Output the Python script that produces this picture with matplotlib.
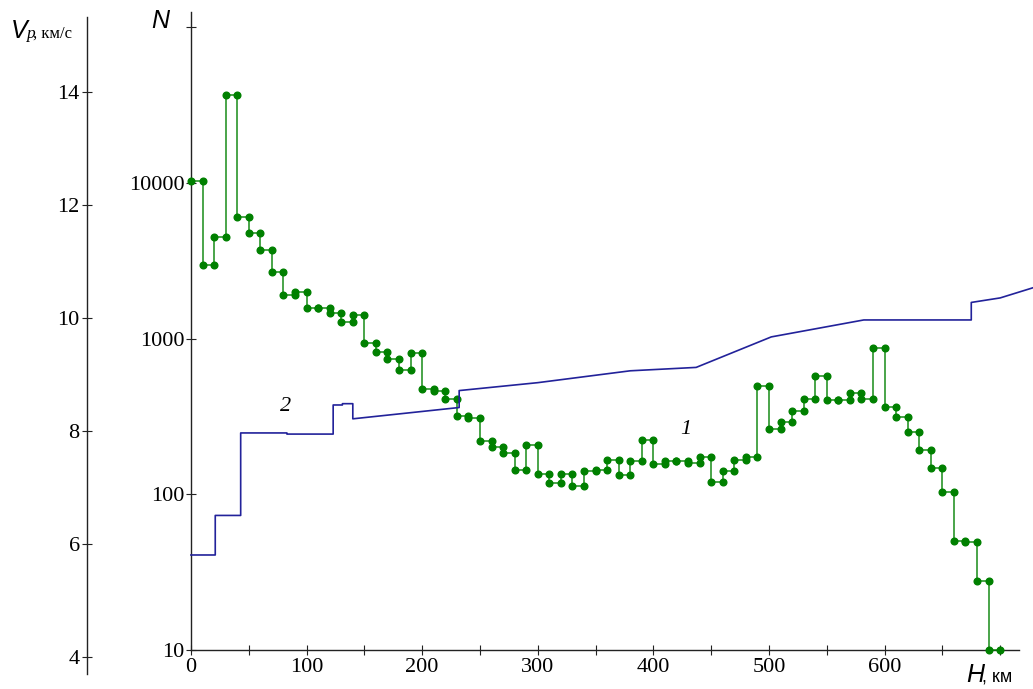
import numpy as np
import matplotlib.pyplot as plt
from matplotlib.ticker import NullLocator

plt.rcParams['font.family'] = 'Liberation Serif'

W, H = 1033, 689

# number of layers per 10 km depth bin (curve 1)
h_edges = np.arange(0, 701, 10)
n_counts = [10300, 2970, 4500, 36800, 6040, 4790, 3710, 2680, 1900, 1990,
            1575, 1575, 1456, 1285, 1419, 933, 824, 736, 628, 805,
            477, 462, 409, 320, 310, 220, 202, 183, 143, 206,
            136, 118, 136, 113, 142, 143, 166, 134, 164, 224,
            157, 164, 164, 158, 174, 120, 141, 165, 174, 497,
            262, 292, 344, 409, 578, 402, 402, 450, 408, 875,
            364, 315, 252, 193, 148, 103, 49.9, 49.5, 27.7, 10]

# P-wave velocity vs depth (curve 2)
vp_depth = [0, 21, 21, 43, 43, 83, 83, 123, 123, 131, 131, 140, 140, 232, 232,
            300, 380, 437, 502, 582, 675, 675, 700, 730]
vp_speed = [5.8, 5.8, 6.5, 6.5, 7.96, 7.96, 7.94, 7.94, 8.455, 8.455, 8.478, 8.478,
            8.21, 8.41, 8.71, 8.85, 9.06, 9.12, 9.66, 9.96, 9.96, 10.27, 10.35, 10.54]

x_ticks = np.arange(0, 701, 50)
x_labels = [str(int(t)) if t % 100 == 0 and t < 700 else '' for t in x_ticks]
n_ticks = [10, 100, 1000, 10000, 100000]
n_labels = ['10', '100', '1000', '10000', '']
vp_ticks = [4, 6, 8, 10, 12, 14]

fig = plt.figure(figsize=(W / 100, H / 100), dpi=100)
ax = fig.add_axes([0, 0, 1, 1])
ax.patch.set_visible(False)
ax.set_xlim(-165.2, 728.4)
ax.set_yscale('log')
ax.set_ylim(10 ** 0.7495, 10 ** 5.1747)

ax2 = ax.twinx()
ax2.set_ylim(3.428, 15.623)

green = '#008000'
ax.stairs(n_counts, h_edges, baseline=None, color=green, lw=1.25, alpha=0.8, zorder=3)
dot_x = np.column_stack([h_edges[:-1], h_edges[1:]]).ravel()
dot_y = np.repeat(n_counts, 2)
ax.plot(dot_x, dot_y, ls='none', marker='o', ms=4.8, color=green, zorder=4, clip_on=False)

ax2.plot(vp_depth, vp_speed, color='#22229a', lw=1.2, zorder=2)

axis_col = '#222222'
for a in (ax, ax2):
    for s in ('top', 'right', 'bottom', 'left'):
        a.spines[s].set_visible(False)

ax.spines['left'].set_visible(True)
ax.spines['left'].set_position(('data', 0))
ax.spines['left'].set_bounds(10, 10 ** 5.098)
ax.spines['bottom'].set_visible(True)
ax.spines['bottom'].set_position(('data', 10))
ax.spines['bottom'].set_bounds(0, 716)

ax2.spines['left'].set_visible(True)
ax2.spines['left'].set_position(('data', -90))
ax2.spines['left'].set_bounds(3.69, 15.32)
ax2.yaxis.set_ticks_position('left')

for a in (ax, ax2):
    for s in a.spines.values():
        s.set_color(axis_col)
        s.set_linewidth(1.0)

ax.set_xticks(x_ticks, x_labels)
ax.set_yticks(n_ticks, n_labels)
ax.yaxis.set_minor_locator(NullLocator())
ax.xaxis.set_minor_locator(NullLocator())
ax2.set_yticks(vp_ticks, [str(v) for v in vp_ticks])

ax.tick_params(axis='x', direction='inout', length=7.5, width=0.8, color=axis_col,
               labelsize=16, pad=2)
ax.tick_params(axis='y', direction='inout', length=7.5, width=0.8, color=axis_col,
               labelsize=16, pad=1)
ax2.tick_params(axis='y', direction='inout', length=6.5, width=0.8, color=axis_col,
                labelsize=16, pad=2, left=True, right=False,
                labelleft=True, labelright=False)


def px(x, y):
    return x / W, 1 - y / H


sans = 'Liberation Sans'
fig.text(*px(151, 27.5), 'N', family=sans, style='italic', fontsize=18, va='baseline')
fig.text(*px(11, 38.5), 'V', family=sans, style='italic', fontsize=18, va='baseline')
fig.text(*px(26, 37.5), 'p', style='italic', fontsize=12.5, va='baseline')
fig.text(*px(33, 37.5), ', км/с', fontsize=12, va='baseline')
fig.text(*px(966, 681.5), 'H', family=sans, style='italic', fontsize=18, va='baseline')
fig.text(*px(982, 681.5), ', км', family=sans, fontsize=13, va='baseline')

fig.text(*px(286, 407), '2', style='italic', fontsize=16, ha='center', va='center')
fig.text(*px(686, 429), '1', style='italic', fontsize=16, ha='center', va='center')

fig.savefig('out.png', dpi=100)
